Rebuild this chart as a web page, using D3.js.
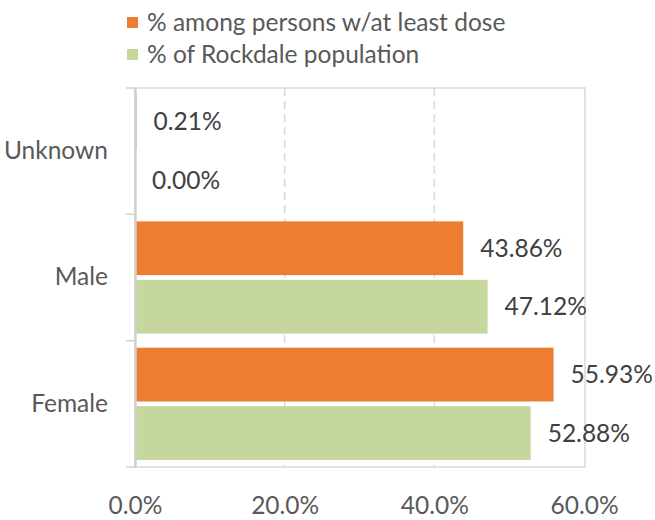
<!DOCTYPE html>
<html>
<head>
<meta charset="utf-8">
<script src="https://cdn.jsdelivr.net/npm/d3@7"></script>
<style>
  html, body { margin: 0; padding: 0; background: #ffffff; }
  svg { display: block; font-family: Lato, "Open Sans", sans-serif; }
</style>
</head>
<body>
<svg id="chart" width="655" height="520"></svg>
<script>
const categories = ["Unknown", "Male", "Female"];
const seriesNames = ["% among persons w/at least dose", "% of Rockdale population"];
const dosePct = [0.21, 43.86, 55.93];
const popPct = [0.00, 47.12, 52.88];
const xTicks = [0, 20, 40, 60];
const xTickLabels = ["0.0%", "20.0%", "40.0%", "60.0%"];
const colors = ["#ED7D31", "#C5D79D"];

const svg = d3.select("#chart");
const plot = { left: 135, right: 584, top: 88, bottom: 467 };
const fontSize = "24.5px";

const x = d3.scaleLinear().domain([0, 60]).range([plot.left, plot.right]);
const y = d3.scaleBand().domain(categories).range([plot.top, plot.bottom]).padding(0);
const ySub = d3.scaleBand().domain(seriesNames).range([0, y.bandwidth()])
  .paddingInner(0.08).paddingOuter(0.12);

const data = [];
categories.forEach((c, i) => {
  data.push({ cat: c, series: seriesNames[0], value: dosePct[i], color: colors[0] });
  data.push({ cat: c, series: seriesNames[1], value: popPct[i], color: colors[1] });
});

const gridColor = "#d9d9d9";

// gridlines (dashed)
svg.append("g").selectAll("line").data([20, 40]).join("line")
  .attr("x1", d => x(d)).attr("x2", d => x(d))
  .attr("y1", plot.top).attr("y2", plot.bottom)
  .attr("stroke", gridColor).attr("stroke-width", 1.5)
  .attr("stroke-dasharray", "8,5");

// plot border
svg.append("rect")
  .attr("x", plot.left).attr("y", plot.top)
  .attr("width", x(60) - plot.left + 1).attr("height", plot.bottom - plot.top)
  .attr("fill", "none").attr("stroke", gridColor).attr("stroke-width", 1.5);

// bars
svg.append("g").selectAll("rect").data(data).join("rect")
  .attr("x", x(0))
  .attr("y", d => y(d.cat) + ySub(d.series))
  .attr("width", d => Math.max(0, x(d.value) - x(0)))
  .attr("height", ySub.bandwidth())
  .attr("fill", d => d.color);

// category axis
const yAxis = d3.axisLeft(y).tickSize(0).tickFormat(d => d);
const yg = svg.append("g").attr("transform", `translate(${plot.left},0)`).call(yAxis);
yg.select(".domain").attr("stroke", "#d0d0d0").attr("stroke-width", 2.5);
yg.selectAll("text").attr("x", -27).attr("fill", "#595959")
  .style("font-size", fontSize).style("font-family", "Lato, sans-serif");

// category boundary ticks
const bounds = categories.map(c => y(c)).concat([plot.bottom]);
svg.append("g").selectAll("line").data(bounds).join("line")
  .attr("x1", plot.left - 9).attr("x2", plot.left)
  .attr("y1", d => d).attr("y2", d => d)
  .attr("stroke", "#d0d0d0").attr("stroke-width", 1.5);

// x axis
const xAxis = d3.axisBottom(x).tickValues(xTicks).tickSize(0)
  .tickFormat((d, i) => xTickLabels[i]);
const xg = svg.append("g").attr("transform", `translate(0,${plot.bottom})`).call(xAxis);
xg.select(".domain").remove();
xg.selectAll("text").attr("y", 38).attr("dy", "0.35em").attr("fill", "#595959")
  .style("font-size", fontSize).style("font-family", "Lato, sans-serif");

// data labels
svg.append("g").selectAll("text").data(data).join("text")
  .attr("x", d => x(d.value) + 17)
  .attr("y", d => y(d.cat) + ySub(d.series) + ySub.bandwidth() / 2)
  .attr("dy", "0.35em")
  .attr("fill", "#404040")
  .style("font-size", fontSize)
  .text(d => d.value.toFixed(2) + "%");

// legend
const legend = svg.append("g");
seriesNames.forEach((s, i) => {
  const gy = 22.5 + i * 32;
  legend.append("rect").attr("x", 127).attr("y", gy - 5.5)
    .attr("width", 11).attr("height", 11).attr("fill", colors[i]);
  legend.append("text").attr("x", 147).attr("y", gy).attr("dy", "0.35em")
    .attr("fill", "#595959").style("font-size", fontSize).text(s);
});
</script>
</body>
</html>
